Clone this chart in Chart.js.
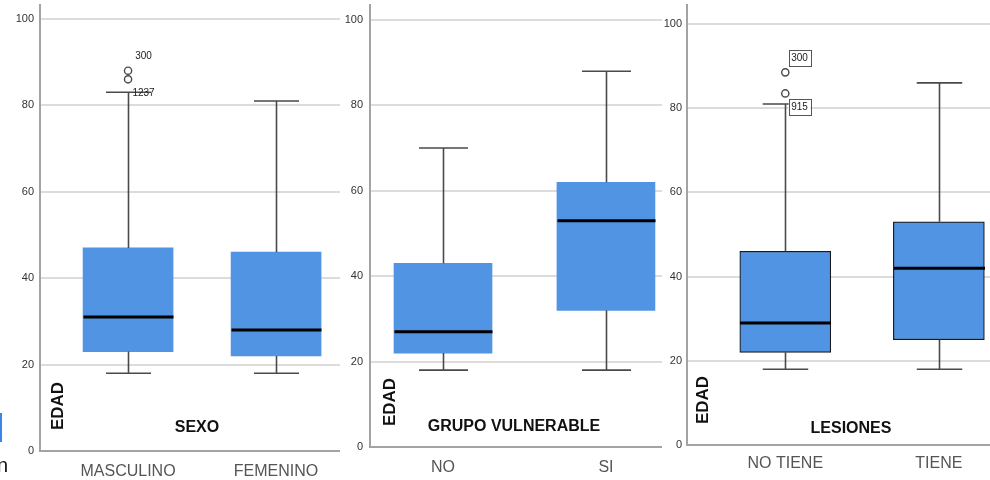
<!DOCTYPE html>
<html lang="es">
<head>
<meta charset="UTF-8">
<title>EDAD - diagramas de caja</title>
<script src="https://cdn.jsdelivr.net/npm/chart.js"></script>
<style>
    body {
        margin: 0;
        background: #ffffff;
        font-family: "Liberation Sans", Arial, sans-serif;
    }
    .wrap {
        position: relative;
        width: 990px;
        height: 480px;
        overflow: hidden;
    }
    .panel {
        position: absolute;
        top: 0;
        height: 480px;
    }
    /* bordes recortados de la captura original */
    .clip-bar {
        position: absolute;
        left: 0;
        top: 413px;
        width: 2px;
        height: 29px;
        background: #3a86e8;
    }
    .clip-n {
        position: absolute;
        left: -3px;
        top: 454px;
        font-size: 20px;
        color: #111;
    }
</style>
</head>
<body>
<div class="wrap">
    <div class="panel" style="left:0;width:340px"><canvas id="chartSexo"></canvas></div>
    <div class="panel" style="left:340px;width:322px"><canvas id="chartGrupo"></canvas></div>
    <div class="panel" style="left:662px;width:328px"><canvas id="chartLesiones"></canvas></div>
    <div class="clip-bar"></div>
    <span class="clip-n">n</span>
</div>

<script>
    // Datos (EDAD)
    const sexoCats = ['MASCULINO', 'FEMENINO'];
    const sexoMin = [18, 18];
    const sexoQ1 = [23, 22];
    const sexoMed = [31, 28];
    const sexoQ3 = [47, 46];
    const sexoMax = [83, 81];
    const sexoOut = [[88, 86], []];
    const sexoOutIds = [['300', '1237'], []];

    const grupoCats = ['NO', 'SI'];
    const grupoMin = [18, 18];
    const grupoQ1 = [22, 32];
    const grupoMed = [27, 53];
    const grupoQ3 = [43, 62];
    const grupoMax = [70, 88];
    const grupoOut = [[], []];
    const grupoOutIds = [[], []];

    const lesCats = ['NO TIENE', 'TIENE'];
    const lesMin = [18, 18];
    const lesQ1 = [22, 25];
    const lesMed = [29, 42];
    const lesQ3 = [46, 53];
    const lesMax = [81, 86];
    const lesOut = [[88.5, 83.5], []];
    const lesOutIds = [['300', '915'], []];

    const yTicks = [0, 20, 40, 60, 80, 100];

    const FONT = '"Liberation Sans", Arial, sans-serif';
    const BOX_COLOR = '#5194e3';
    const LINE_COLOR = '#4a4a4a';

    // bigotes, medianas, etiquetas de atípicos y títulos dentro del área
    const boxPlugin = {
        id: 'boxExtras',
        afterDatasetsDraw(chart, args, o) {
            const ctx = chart.ctx;
            const x = chart.scales.x, y = chart.scales.y;
            const area = chart.chartArea;
            ctx.save();
            o.cats.forEach((c, i) => {
                const cx = Math.round(x.getPixelForValue(i)) + 0.5;
                const half = o.boxW / 2, cap = o.boxW / 4;
                ctx.strokeStyle = LINE_COLOR;
                ctx.lineWidth = 1.6;
                ctx.beginPath();
                ctx.moveTo(cx, y.getPixelForValue(o.q3[i]));
                ctx.lineTo(cx, y.getPixelForValue(o.max[i]));
                ctx.moveTo(cx, y.getPixelForValue(o.q1[i]));
                ctx.lineTo(cx, y.getPixelForValue(o.min[i]));
                ctx.moveTo(cx - cap, y.getPixelForValue(o.max[i]));
                ctx.lineTo(cx + cap, y.getPixelForValue(o.max[i]));
                ctx.moveTo(cx - cap, y.getPixelForValue(o.min[i]));
                ctx.lineTo(cx + cap, y.getPixelForValue(o.min[i]));
                ctx.stroke();

                ctx.strokeStyle = '#000000';
                ctx.lineWidth = 3;
                ctx.beginPath();
                ctx.moveTo(cx - half, y.getPixelForValue(o.med[i]));
                ctx.lineTo(cx + half, y.getPixelForValue(o.med[i]));
                ctx.stroke();

                // etiquetas de casos atípicos
                ctx.font = '10px ' + FONT;
                ctx.textAlign = 'center';
                ctx.textBaseline = 'middle';
                o.out[i].forEach((v, k) => {
                    const id = o.ids[i][k];
                    if (!id) return;
                    const px = cx + 13 + (o.boxed ? 1 : 0);
                    const py = y.getPixelForValue(v) + (k === 0 ? -14 : 14);
                    if (o.boxed) {
                        const w = ctx.measureText(id).width + 5;
                        ctx.fillStyle = '#ffffff';
                        ctx.fillRect(px - w / 2, py - 8, w, 16);
                        ctx.strokeStyle = '#555555';
                        ctx.lineWidth = 1;
                        ctx.strokeRect(Math.round(px - w / 2) + 0.5, Math.round(py - 8) + 0.5, Math.round(w), 16);
                    }
                    ctx.fillStyle = '#222222';
                    ctx.fillText(id, o.boxed ? px : px + 2, py);
                });
            });

            // títulos de ejes
            ctx.fillStyle = '#111111';
            ctx.font = 'bold 16px ' + FONT;
            ctx.textAlign = 'center';
            ctx.textBaseline = 'middle';
            ctx.fillText(o.xTitle, o.xTitleX, area.bottom - o.xTitleDy);
            ctx.save();
            ctx.translate(area.left + o.edadDx, area.bottom - 45);
            ctx.rotate(-Math.PI / 2);
            ctx.font = 'bold 17px ' + FONT;
            ctx.fillText('EDAD', 0, 0);
            ctx.restore();
            ctx.restore();
        }
    };

    function makePanel(id, p) {
        const boxData = p.cats.map((c, i) => ({ x: i, y: [p.q1[i], p.q3[i]] }));
        const outData = [];
        p.out.forEach((vals, i) => vals.forEach(v => outData.push({ x: i, y: v })));

        return new Chart(document.getElementById(id), {
            type: 'bar',
            data: {
                datasets: [{
                    data: boxData,
                    backgroundColor: BOX_COLOR,
                    borderColor: p.boxed ? '#1a1a1a' : BOX_COLOR,
                    borderWidth: p.boxed ? 1.2 : 0,
                    borderSkipped: false,
                    barThickness: p.boxW
                }, {
                    type: 'line',
                    data: outData,
                    showLine: false,
                    pointRadius: 3.6,
                    pointBackgroundColor: '#ffffff',
                    pointBorderColor: LINE_COLOR,
                    pointBorderWidth: 1.4
                }]
            },
            options: {
                responsive: true,
                maintainAspectRatio: false,
                animation: false,
                events: [],
                layout: { autoPadding: false, padding: { top: 5, left: 0, right: 0, bottom: 0 } },
                plugins: {
                    legend: { display: false },
                    tooltip: { enabled: false },
                    boxExtras: {
                        cats: p.cats, min: p.min, q1: p.q1, med: p.med, q3: p.q3, max: p.max,
                        out: p.out, ids: p.ids, boxW: p.boxW, boxed: p.boxed,
                        xTitle: p.xTitle, xTitleX: p.xTitleX, xTitleDy: p.xTitleDy, edadDx: p.edadDx
                    }
                },
                scales: {
                    x: {
                        type: 'linear',
                        offset: false,
                        min: p.xMin,
                        max: p.xMax,
                        afterBuildTicks: s => { s.ticks = p.cats.map((c, i) => ({ value: i })); },
                        afterFit: s => {
                            s.height = p.xHeight;
                            s.paddingLeft = 0;
                            s.paddingRight = 0;
                        },
                        grid: { display: false },
                        border: { display: true, color: '#a3a3a3', width: 2 },
                        ticks: {
                            autoSkip: false,
                            maxRotation: 0,
                            padding: p.xPad,
                            color: '#555555',
                            font: { family: FONT, size: 16 },
                            callback: v => p.cats[v]
                        }
                    },
                    y: {
                        min: 0,
                        max: p.yMax,
                        afterBuildTicks: s => { s.ticks = yTicks.map(v => ({ value: v })); },
                        afterFit: s => {
                            s.width = p.yWidth;
                            s.paddingTop = 0;
                            s.paddingBottom = 0;
                        },
                        grid: { color: '#dcdcdc', lineWidth: 2, drawTicks: false },
                        border: { display: true, color: '#a3a3a3', width: 2 },
                        ticks: {
                            padding: p.yPad,
                            color: '#333333',
                            font: { family: FONT, size: 11 }
                        }
                    }
                }
            },
            plugins: [boxPlugin]
        });
    }

    makePanel('chartSexo', {
        cats: sexoCats, min: sexoMin, q1: sexoQ1, med: sexoMed, q3: sexoQ3, max: sexoMax,
        out: sexoOut, ids: sexoOutIds, boxed: false, boxW: 90,
        xMin: -0.595, xMax: 1.432, yMax: 103.2, yWidth: 40, yPad: 6, xHeight: 29, xPad: 3,
        xTitle: 'SEXO', xTitleX: 197, xTitleDy: 23, edadDx: 18
    });

    makePanel('chartGrupo', {
        cats: grupoCats, min: grupoMin, q1: grupoQ1, med: grupoMed, q3: grupoQ3, max: grupoMax,
        out: grupoOut, ids: grupoOutIds, boxed: false, boxW: 98,
        xMin: -0.448, xMax: 1.344, yMax: 103.5, yWidth: 30, yPad: 7, xHeight: 33, xPad: 3,
        xTitle: 'GRUPO VULNERABLE', xTitleX: 174, xTitleDy: 20, edadDx: 20
    });

    makePanel('chartLesiones', {
        cats: lesCats, min: lesMin, q1: lesQ1, med: lesMed, q3: lesQ3, max: lesMax,
        out: lesOut, ids: lesOutIds, boxed: true, boxW: 91,
        xMin: -0.64, xMax: 1.333, yMax: 104.5, yWidth: 25, yPad: 5, xHeight: 35, xPad: 1,
        xTitle: 'LESIONES', xTitleX: 189, xTitleDy: 16, edadDx: 16
    });
</script>
</body>
</html>
